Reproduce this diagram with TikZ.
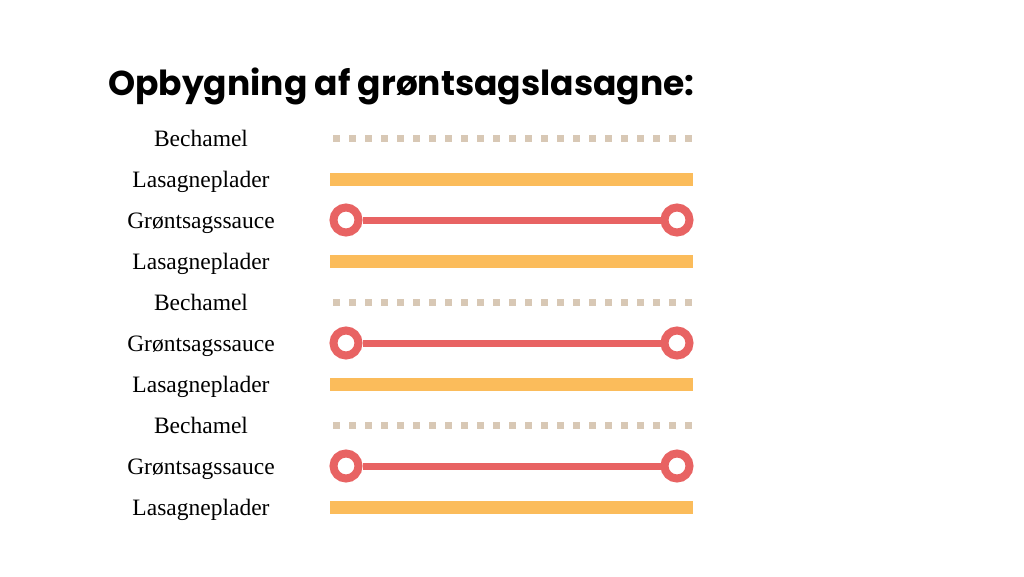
\documentclass[tikz,border=0pt]{standalone}
\usepackage{fontspec}
\setmainfont{Liberation Serif}
\newfontfamily\titlefont{Poppins}
\definecolor{beige}{HTML}{D8C8B5}
\definecolor{lasyellow}{HTML}{FBBC5B}
\definecolor{saucered}{HTML}{E86363}
\begin{document}
\begin{tikzpicture}[x=1pt,y=-1pt,
  lbl/.style={anchor=base,font=\fontsize{23.5}{26}\selectfont,inner sep=0pt},
  bech/.style={draw=beige,line width=7pt,dash pattern=on 7pt off 9pt},
  plade/.style={draw=lasyellow,line width=13pt},
  sauce/.style={draw=saucered,line width=7pt},
  ring/.style={circle,draw=saucered,line width=8pt,fill=white,minimum size=25pt,inner sep=0pt}]
\useasboundingbox[fill=white] (0,0) rectangle (1024,576);
\node[anchor=base west,inner sep=0pt,font=\titlefont\bfseries\fontsize{34.5}{40}\selectfont] (title) at (108,95) {Opbygning af grøntsagslasagne:};
% rows
\foreach \y/\t [count=\i] in {138/Bechamel,179/Lasagneplader,220/Grøntsagssauce,261/Lasagneplader,302/Bechamel,343/Grøntsagssauce,384/Lasagneplader,425/Bechamel,466/Grøntsagssauce,507/Lasagneplader}{
  \node[lbl] (t\i) at (201,\y+8) {\t};
  \coordinate (a\i) at (330,\y);
  \coordinate (e\i) at (693,\y);
  \coordinate (d\i) at (333,\y);
}
\foreach \i in {1,5,8}{\draw[bech] (d\i) -- (e\i);}
\foreach \i in {2,4,7,10}{\draw[plade] (a\i) -- (e\i);}
\foreach \i in {3,6,9}{
  \node[ring] (L\i) at ([xshift=16pt]a\i) {};
  \node[ring] (R\i) at ([xshift=-16pt]e\i) {};
  \draw[sauce] (L\i) -- (R\i);
}
\end{tikzpicture}
\end{document}
